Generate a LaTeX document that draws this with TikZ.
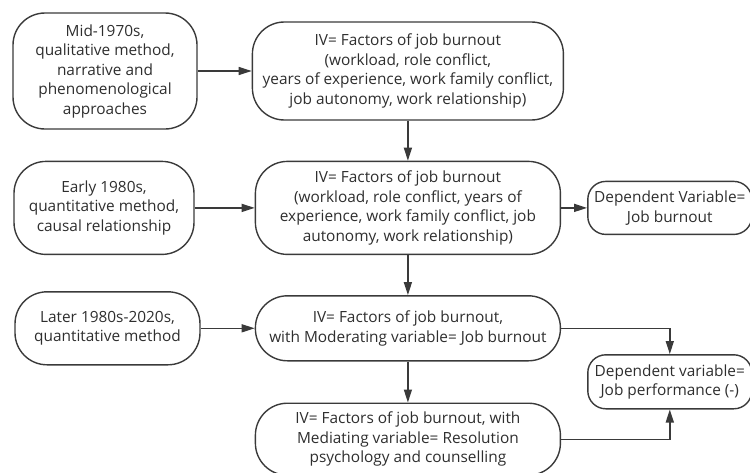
\documentclass[tikz,border=0pt]{standalone}
\usepackage{fontspec}
\setmainfont{Open Sans}
\usepackage{xcolor}
\usepackage{tikz}
\usetikzlibrary{arrows.meta,positioning}
\definecolor{ink}{HTML}{2E2E2E}
\definecolor{edge}{HTML}{3A3A3A}

\begin{document}
\begin{tikzpicture}[x=1pt,y=1pt,
  stage/.style={draw=edge,line width=1.4pt,rounded corners=32pt,inner sep=0pt,
                align=center,text=ink,font=\fontsize{15.4pt}{19.5pt}\selectfont},
  small/.style={stage,rounded corners=18pt},
  arr/.style={-{Triangle[length=13pt,width=8pt]},draw=edge,line width=1.4pt}
]
\useasboundingbox (0,0) rectangle (750,-472);
\node[stage,minimum width=184pt,minimum height=116pt] (a) at (105,-71)
  {Mid-1970s,\\qualitative method,\\narrative and\\phenomenological\\approaches};
\node[stage,minimum width=311pt,minimum height=98pt,right=54pt of a] (b)
  {IV= Factors of job burnout\\(workload, role conflict,\\years of experience, work family conflict,\\job autonomy, work relationship)};
\node[stage,minimum width=305pt,minimum height=93pt,below=40pt of b] (d)
  {IV= Factors of job burnout\\(workload, role conflict, years of\\experience, work family conflict, job\\autonomy, work relationship)};
\node[stage,minimum width=180pt,minimum height=93pt,left=60pt of d] (c)
  {Early 1980s,\\quantitative method,\\causal relationship};
\node[small,minimum width=164pt,minimum height=53pt,right=26pt of d] (e)
  {Dependent Variable=\\Job burnout};
\node[stage,minimum width=305pt,minimum height=65pt,below=40pt of d] (g)
  {IV= Factors of job burnout,\\with Moderating variable= Job burnout};
\node[stage,minimum width=185pt,minimum height=73pt,left=54pt of g] (f)
  {Later 1980s-2020s,\\quantitative method};
\node[stage,minimum width=305pt,minimum height=72pt,below=41pt of g] (h)
  {IV= Factors of job burnout, with\\Mediating variable= Resolution\\psychology and counselling};
\node[small,minimum width=164pt,minimum height=54pt,below=119pt of e] (i)
  {Dependent variable=\\Job performance (-)};
\draw[arr] (a) -- (b);
\draw[arr] (c) -- (d);
\draw[arr] (f) -- (g);
\draw[arr] (b) -- (d);
\draw[arr] (d) -- (g);
\draw[arr] (g) -- (h);
\draw[arr] (d) -- (e);
\draw[arr] (g.east) -| (i.north);
\draw[arr] (h.east) -| (i.south);
\end{tikzpicture}
\end{document}
